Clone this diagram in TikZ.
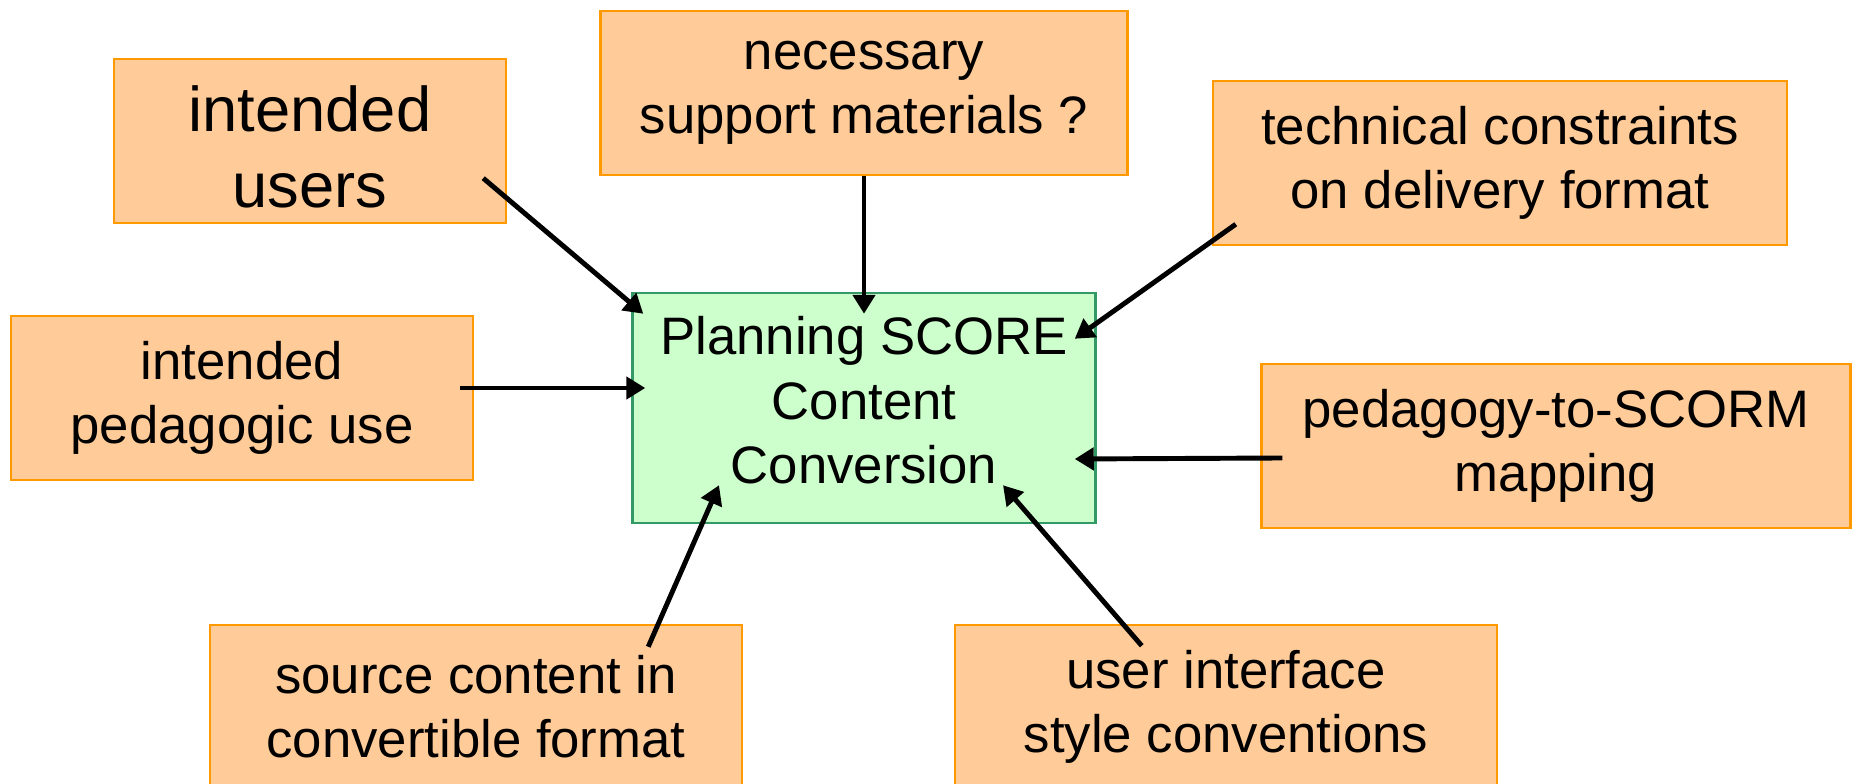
\documentclass[tikz,border=0pt]{standalone}
\usepackage{fontspec}
\setmainfont{Liberation Sans}
\usepackage{tikz}
\usetikzlibrary{shapes,arrows.meta,positioning}
\definecolor{peach}{HTML}{FFCC99}
\definecolor{amber}{HTML}{FF9900}
\definecolor{mint}{HTML}{CCFFCC}
\definecolor{seagreen}{HTML}{339966}
\tikzstyle{block} = [rectangle, draw=amber, fill=peach, line width=1.4pt,
    align=center, minimum height=3.28cm, inner sep=0pt,
    font=\fontsize{30}{36.5}\selectfont]
\tikzstyle{core} = [rectangle, draw=seagreen, fill=mint, line width=1.4pt,
    align=center, minimum width=9.26cm, minimum height=4.6cm, inner sep=0pt,
    font=\fontsize{30}{36.5}\selectfont]
\tikzstyle{line} = [draw, line width=2.8pt, -{Triangle[length=0.38cm,width=0.44cm]}]

\begin{document}
\begin{tikzpicture}
    \useasboundingbox (0,0) rectangle (37.2,15.68);
    % Place nodes
    \node [core] (plan) at (17.28,7.52)
    {Planning SCORE\\Content\\Conversion\rule[-0.32cm]{0pt}{0pt}};
    \node [block, minimum width=7.84cm, above of=plan, node distance=5.34cm,
    xshift=-11.08cm, font=\fontsize{36}{43}\selectfont] (users)
    {\rule{0pt}{1.16cm}intended\\users};
    \node [block, minimum width=10.54cm, above of=plan, node distance=6.3cm]
    (support) {necessary\\support materials ?};
    \node [block, minimum width=11.48cm, above of=plan, node distance=4.9cm,
    xshift=12.72cm] (technical) {technical constraints\\on delivery format};
    \node [block, minimum width=9.24cm, left of=plan, node distance=12.44cm,
    yshift=0.2cm] (peduse) {intended\\pedagogic use};
    \node [block, minimum width=11.78cm, right of=plan, node distance=13.84cm,
    yshift=-0.76cm] (mapping) {pedagogy-to-SCORM\\mapping};
    \node [block, minimum width=10.64cm, below of=plan, node distance=5.98cm,
    xshift=-7.76cm] (source) {source content in\\convertible format};
    \node [block, minimum width=10.84cm, below of=plan, node distance=5.98cm,
    xshift=7.24cm] (interface) {user interface\\style conventions};

    % Draw edges
    \path [line] ([shift={(-0.48,0.92)}]users.south east) -- ([shift={(0.24,-0.44)}]plan.north west);
    \path [line] (support.south) -- ([yshift=-0.44cm]plan.north);
    \path [line] ([shift={(0.48,0.44)}]technical.south west) -- ([shift={(-0.44,-0.94)}]plan.north east);
    \path [line] ([shift={(-0.28,0.2)}]peduse.east) -- ([shift={(0.28,0.4)}]plan.west);
    \path [line] ([shift={(0.44,-0.24)}]mapping.west) -- ([shift={(-0.44,-1.02)}]plan.east);
    \path [line] ([shift={(-1.9,-0.46)}]source.north east) -- ([shift={(-2.9,0.78)}]plan.south);
    \path [line] ([shift={(3.76,-0.44)}]interface.north west) -- ([shift={(2.78,0.78)}]plan.south);

\end{tikzpicture}
\end{document}
